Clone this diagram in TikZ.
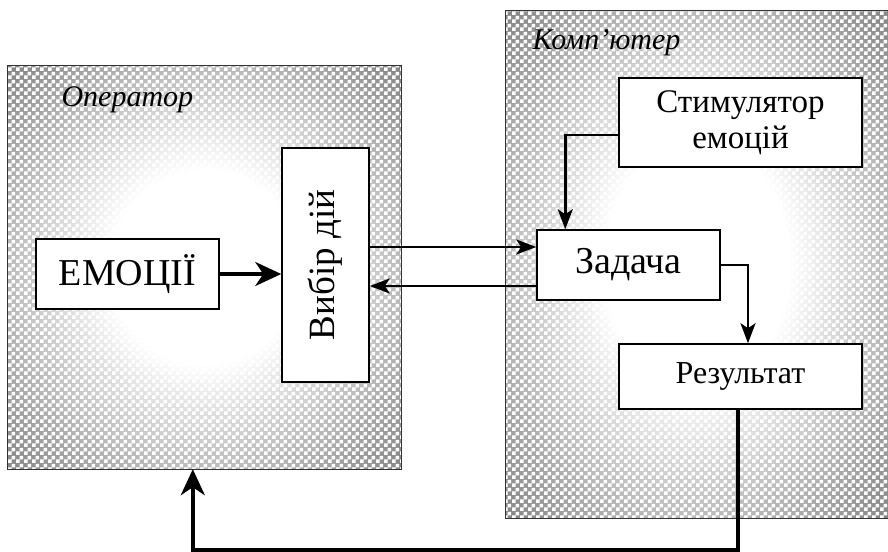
\documentclass[tikz,border=0pt]{standalone}
\usepackage{fontspec}
\setmainfont{Liberation Serif}
\usetikzlibrary{arrows.meta,calc,patterns}
\pgfdeclareradialshading{halo}{\pgfpoint{0bp}{0bp}}{color(0bp)=(white); color(12bp)=(white); color(32bp)=(black!42); color(48bp)=(black!70); color(70bp)=(black!78)}
\pgfdeclarepatternformonly{bigcheck}{\pgfpointorigin}{\pgfpoint{8pt}{8pt}}{\pgfpoint{8pt}{8pt}}{%
  \pgfpathrectangle{\pgfpointorigin}{\pgfpoint{4pt}{4pt}}%
  \pgfpathrectangle{\pgfpoint{4pt}{4pt}}{\pgfpoint{4pt}{4pt}}%
  \pgfusepath{fill}}
\tikzset{
  block/.style={draw=black, line width=1.5pt, fill=white, inner sep=0pt, align=center},
  area/.style={draw=black!80, line width=1.3pt},
  conn/.style={draw=black, line width=2.6pt, -{Stealth[length=20pt,width=15pt,inset=5pt]}},
  thickconn/.style={draw=black, line width=3.2pt, -{Stealth[length=26pt,width=24pt,inset=8pt]}},
  lbl/.style={font=\fontsize{30}{33}\selectfont\itshape, anchor=base west},
  halftone/.style={pattern=bigcheck, pattern color=white}
}
\begin{document}
\begin{tikzpicture}[x=1pt,y=-1pt]
\useasboundingbox (0,0) rectangle (888,551);
% areas
\node[minimum width=393pt, minimum height=403pt, inner sep=0pt] (op) at (204.5,267.5) {};
\shade[shading=halo] (op.south west) rectangle (op.north east);
\fill[halftone] (op.south west) rectangle (op.north east);
\draw[area] (op.south west) rectangle (op.north east);
\node[lbl] (oplbl) at (58,106) {Оператор};

\node[minimum width=382pt, minimum height=507pt, inner sep=0pt] (comp) at (697,264.5) {};
\shade[shading=halo] (comp.south west) rectangle (comp.north east);
\fill[halftone] (comp.south west) rectangle (comp.north east);
\draw[area] (comp.north east) -- (comp.north west) -- (comp.south west) -- (comp.south east);
\node[lbl] (complbl) at (529,50) {Комп’ютер};

% blocks
\node[block, minimum width=183pt, minimum height=70pt, font=\fontsize{38}{42}\selectfont] (emo) at (127.5,274) {ЕМОЦІЇ};
\node[block, minimum width=87pt, minimum height=234pt] (vyb) at (325.5,265) {};
\node[rotate=90, font=\fontsize{37}{40}\selectfont, inner sep=0pt] (vybt) at (vyb.center) {Вибір дій};
\node[block, minimum width=243pt, minimum height=89pt, font=\fontsize{33}{36}\selectfont] (stim) at (740.5,122.5) {Стимулятор\\емоцій};
\node[block, minimum width=183pt, minimum height=70pt, font=\fontsize{38}{42}\selectfont] (zad) at (628.5,265) {Задача};
\node[block, minimum width=243pt, minimum height=65pt, font=\fontsize{32}{35}\selectfont] (res) at (740.5,376.5) {Результат};

% connectors
\draw[thickconn] (emo.east) -- (emo.east -| vyb.west);
\draw[conn] ($(vyb.east)+(0,-18)$) -- ($(zad.west)+(0,-18)$);
\draw[conn] ($(zad.west)+(0,21)$) -- ($(vyb.east)+(0,21)$);
\draw[conn] ($(stim.west)+(0,12.5)$) -| ($(zad.north west)+(29,0)$);
\draw[conn] (zad.east) -| ($(res.north)+(7.5,0)$);
\draw[thickconn, line width=3.6pt] ($(res.south)+(-2.5,0)$) -- ++(0,140) -| ($(op.south west)+(185,0)$);
\end{tikzpicture}
\end{document}
